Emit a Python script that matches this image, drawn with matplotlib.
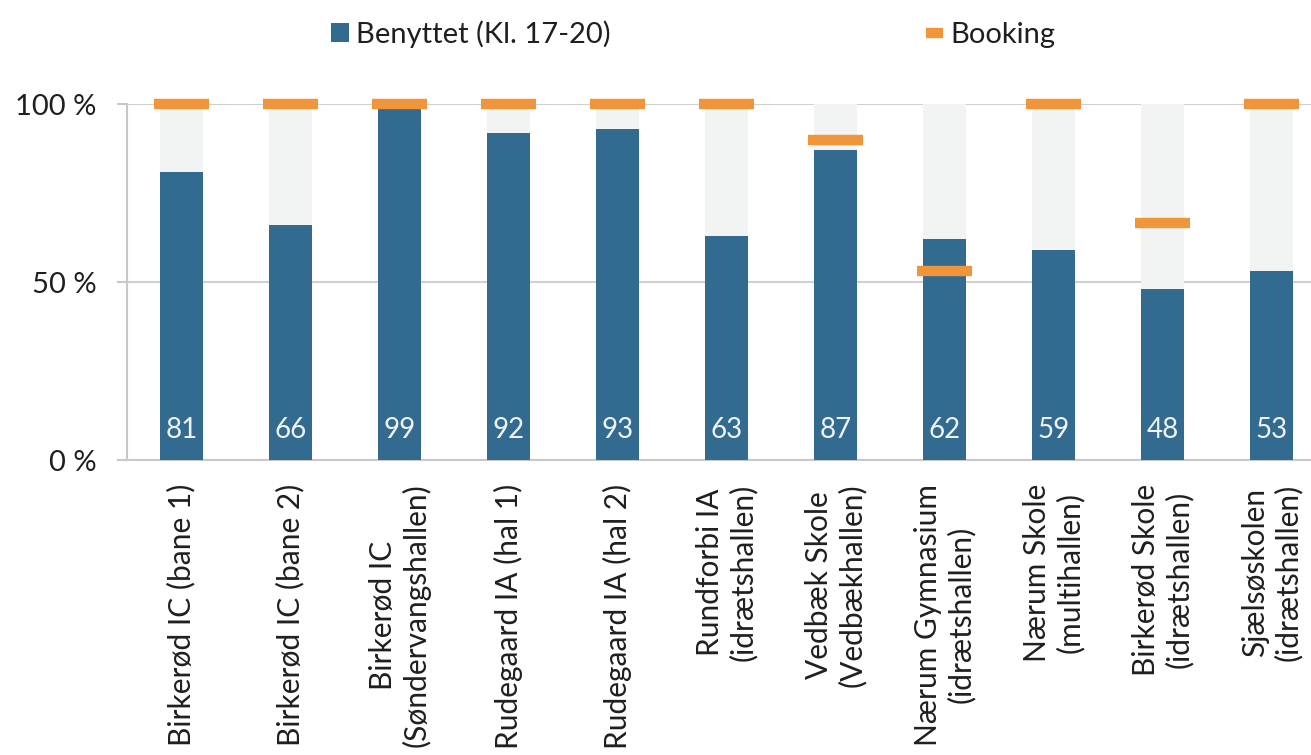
import numpy as np
import matplotlib.pyplot as plt

plt.rcParams['font.family'] = ['Lato', 'DejaVu Sans']

labels = ["Birkerød IC (bane 1)", "Birkerød IC (bane 2)", "Birkerød IC\n(Søndervangshallen)",
          "Rudegaard IA (hal 1)", "Rudegaard IA (hal 2)", "Rundforbi IA\n(idrætshallen)",
          "Vedbæk Skole\n(Vedbækhallen)", "Nærum Gymnasium\n(idrætshallen)", "Nærum Skole\n(multihallen)",
          "Birkerød Skole\n(idrætshallen)", "Sjælsøskolen\n(idrætshallen)"]
benyttet = [81, 66, 99, 92, 93, 63, 87, 62, 59, 48, 53]
booking = [100, 100, 100, 100, 100, 100, 90, 53, 100, 66.5, 100]
total = [100] * len(labels)

blue = '#336A90'
orange = '#F0953A'
grey_bg = '#F2F3F3'
txt = '#1F1F1F'

fig = plt.figure(figsize=(13.11, 7.55), dpi=100)
ax = fig.add_axes([0.0969, 0.3907, 0.9146, 0.4715])

x = np.arange(len(labels))
# grå baggrund op til 100 %
ax.bar(x, total, width=0.40, color=grey_bg, zorder=2)
bars = ax.bar(x, benyttet, width=0.40, color=blue, zorder=3, label='Benyttet (Kl. 17-20)')
lines = ax.hlines(booking, x - 0.255, x + 0.255, colors=orange, linewidth=7.5, zorder=4,
                  label='Booking', clip_on=False)

for xi, v in zip(x, benyttet):
    ax.text(xi, 8.5, str(v), ha='center', va='center', color='#EEF3F6', fontsize=20, zorder=5)

ax.set_xlim(-0.5, 10.5)
ax.set_ylim(0, 100)
ax.set_yticks([0, 50, 100])
ax.set_yticklabels(['0 %', '50 %', '100 %'], fontsize=21, color=txt)
ax.yaxis.grid(True, color='#D0D0D0', linewidth=1.5, zorder=0)
ax.set_axisbelow(True)
ax.tick_params(axis='y', length=7, color='#C8C8C8', width=1.5, pad=15)
ax.set_xticks(x)
ax.set_xticklabels(labels, rotation=90, fontsize=21.5, color=txt, ha='center', va='top',
                   multialignment='center')
ax.tick_params(axis='x', length=0, pad=17)

for s in ['top', 'right']:
    ax.spines[s].set_visible(False)
for s in ['left', 'bottom']:
    ax.spines[s].set_color('#C8C8C8')
    ax.spines[s].set_linewidth(1.5)

fig.legend(handles=[bars, lines], loc='upper center', bbox_to_anchor=(0.529, 1.0), ncol=2,
           frameon=False, fontsize=21, handlelength=0.6, handleheight=0.6, handletextpad=0.25,
           columnspacing=10.8, labelcolor=txt, borderaxespad=0.3)

fig.savefig('out.png', dpi=100)
